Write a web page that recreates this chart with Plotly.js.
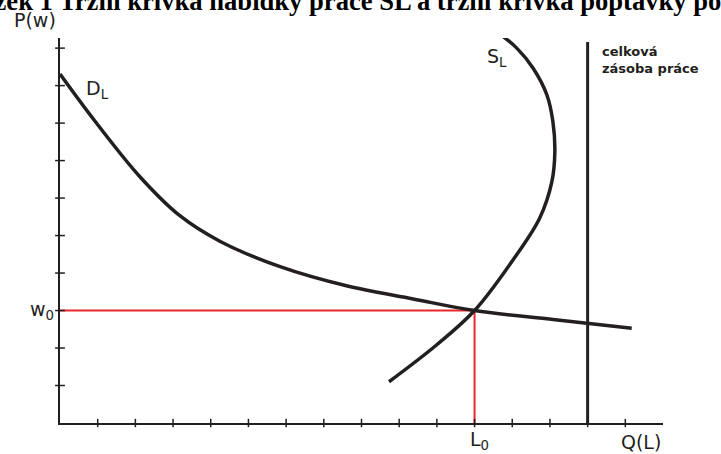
<!DOCTYPE html>
<html>
<head>
<meta charset="utf-8">
<script src="https://cdn.plot.ly/plotly-3.0.1.min.js"></script>
<style>html,body{margin:0;padding:0;background:#fff;overflow:hidden}#chart{width:721px;height:454px}</style>
</head>
<body>
<div id="chart"></div>
<script>
// Demand curve D_L (quantity of labour, wage)
const demandQ = [0, 0.93, 2.12, 3.18, 4.24, 5.84, 7.60, 9.37, 11.0, 13.26, 15.17];
const demandW = [9.31, 8.05, 6.57, 5.53, 4.85, 4.17, 3.66, 3.31, 3.0, 2.74, 2.53];
// Supply curve S_L (backward bending)
const supplyQ = [8.73, 9.99, 11.0, 12.02, 12.73, 13.05, 13.13, 13.08, 12.92, 12.55, 12.12, 11.64];
const supplyW = [1.10, 2.08, 3.0, 4.35, 5.47, 6.43, 7.23, 8.03, 8.75, 9.47, 10.0, 10.40];
// Equilibrium
const eqQ = 11;   // L0
const eqW = 3;    // w0
// Total labour supply
const totalLabourQ = 14;
const totalLabourTop = 10.16;
// Axis tick positions
const xTicks = [1,2,3,4,5,6,7,8,9,10,11,12,13,14,15];
const yTicks = [1,2,3,4,5,6,7,8,9,10];
const titleText = "Obrázek 1 Tržní křivka nabídky práce SL a tržní křivka poptávky po práci";

const ink = '#231f20';
const red = '#e8262b';

const traces = [
  {x: [0, eqQ], y: [eqW, eqW], mode: 'lines', line: {color: red, width: 2}, hoverinfo: 'skip'},
  {x: [eqQ, eqQ], y: [0, eqW], mode: 'lines', line: {color: red, width: 2}, hoverinfo: 'skip'},
  {x: demandQ, y: demandW, mode: 'lines', line: {color: ink, width: 3.5, shape: 'spline', smoothing: 1}},
  {x: supplyQ, y: supplyW, mode: 'lines', line: {color: ink, width: 3.5, shape: 'spline', smoothing: 1}},
  {x: [totalLabourQ, totalLabourQ], y: [0, totalLabourTop], mode: 'lines', line: {color: ink, width: 3}},
  {x: xTicks, y: xTicks.map(() => 0), mode: 'markers', cliponaxis: false,
   marker: {symbol: 'line-ns', size: 6, line: {color: ink, width: 1.5}}},
  {x: yTicks.map(() => 0), y: yTicks, mode: 'markers', cliponaxis: false,
   marker: {symbol: 'line-ew', size: 7, line: {color: ink, width: 1.5}}}
];

const lab = {family: 'DejaVu Sans', size: 19, color: ink};
const ann = (text, x, y, xanchor) => ({text, x, y, xref: 'paper', yref: 'paper', xanchor, yanchor: 'middle', showarrow: false, font: lab});
const layout = {
  width: 721, height: 454,
  margin: {l: 60, r: 58, t: 38, b: 31},
  paper_bgcolor: '#fff', plot_bgcolor: '#fff',
  showlegend: false,
  title: {text: '<b>' + titleText + '</b>', x: 0.5, xref: 'container', xanchor: 'center',
          y: 1 - 1/454, yref: 'container', yanchor: 'middle',
          font: {family: 'Liberation Serif', size: 26.6, color: '#000'}},
  xaxis: {range: [0, 16], showgrid: false, zeroline: false, showticklabels: false, ticks: '',
          showline: true, linecolor: ink, linewidth: 2, fixedrange: true},
  yaxis: {range: [0, 10.27], showgrid: false, zeroline: false, showticklabels: false, ticks: '',
          showline: true, linecolor: ink, linewidth: 2, fixedrange: true},
  annotations: [
    ann('P(w)', -0.004, 1.047, 'right'),
    ann('D<sub>L</sub>', 0.04, 0.865, 'left'),
    ann('S<sub>L</sub>', 0.705, 0.95, 'left'),
    ann('w<sub>0</sub>', -0.006, 0.292, 'right'),
    ann('L<sub>0</sub>', 0.695, -0.045, 'center'),
    ann('Q(L)', 1.0, -0.05, 'right'),
    {text: '<b>celková<br>zásoba práce</b>', x: 0.895, y: 0.99, xref: 'paper', yref: 'paper', xanchor: 'left', yanchor: 'top', align: 'left',
     showarrow: false, font: {family: 'DejaVu Sans', size: 13, color: ink}}
  ]
};

Plotly.newPlot('chart', traces, layout, {displayModeBar: false, staticPlot: true});
</script>
</body>
</html>
